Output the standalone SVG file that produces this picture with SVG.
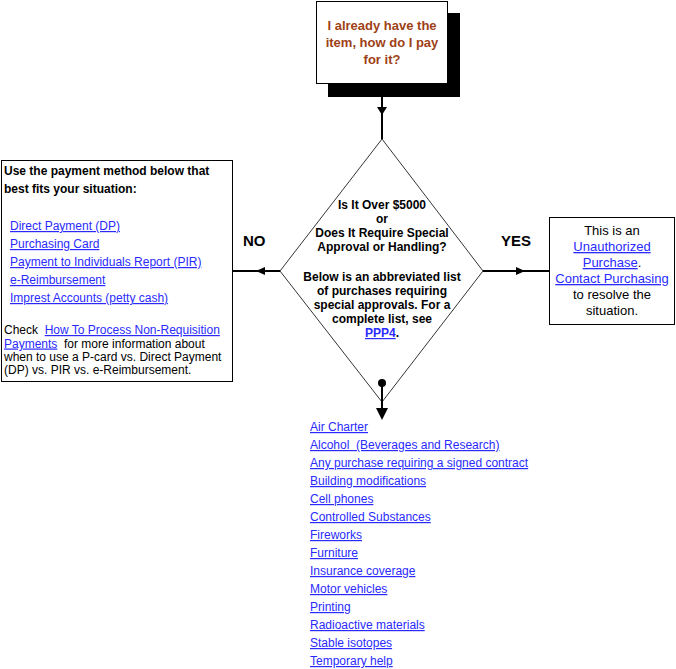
<svg xmlns="http://www.w3.org/2000/svg" width="676" height="669" viewBox="0 0 676 669">
<style>
text{font-family:"Liberation Sans",Arial,sans-serif;fill:#000}
.b{font-weight:bold}
.f12{font-size:12px}
.f13{font-size:13px}
.lk{fill:#2a2aff;text-decoration:underline}
.box{fill:#fff;stroke:#000;stroke-width:1}
.ln{stroke:#000;stroke-width:2;fill:none}
.ah{fill:#000;stroke:none}
.c{text-anchor:middle}
</style>
<rect width="676" height="669" fill="#fff"/>
<g id="start">
<rect x="328" y="13" width="132" height="84" fill="#000"/>
<rect class="box" x="316.5" y="1.5" width="131" height="82" stroke="#555"/>
<text class="b f13 c" x="382" y="30" style="fill:#9e3f16">I already have the</text>
<text class="b f13 c" x="382" y="47" style="fill:#9e3f16">item, how do I pay</text>
<text class="b f13 c" x="382" y="64" style="fill:#9e3f16">for it?</text>
</g>
<g id="decision">
<polygon points="382,139 483,271 382,402 280,271" fill="#fff" stroke="#000" stroke-width="0.8"/>
<text class="b f12 c" x="382" y="209">Is It Over $5000</text>
<text class="b f12 c" x="382" y="223">or</text>
<text class="b f12 c" x="382" y="237">Does It Require Special</text>
<text class="b f12 c" x="382" y="251">Approval or Handling?</text>
<text class="b f12 c" x="382" y="281">Below is an abbreviated list</text>
<text class="b f12 c" x="382" y="295">of purchases requiring</text>
<text class="b f12 c" x="382" y="309">special approvals. For a</text>
<text class="b f12 c" x="382" y="323">complete list, see</text>
<text class="b f12 c" x="382" y="337"><tspan class="lk">PPP4</tspan>.</text>
</g>
<g id="no-box">
<rect class="box" x="1.5" y="160.5" width="231" height="221"/>
<text class="b f12" x="4" y="175">Use the payment method below that</text>
<text class="b f12" x="4" y="193">best fits your situation:</text>
<text class="f12 lk" x="10" y="230">Direct Payment (DP)</text>
<text class="f12 lk" x="10" y="248">Purchasing Card</text>
<text class="f12 lk" x="10" y="266">Payment to Individuals Report (PIR)</text>
<text class="f12 lk" x="10" y="284">e-Reimbursement</text>
<text class="f12 lk" x="10" y="302">Imprest Accounts (petty cash)</text>
<text class="f12" x="4" y="334" xml:space="preserve">Check  <tspan class="lk">How To Process Non-Requisition</tspan></text>
<text class="f12" x="4" y="347.5" xml:space="preserve"><tspan class="lk">Payments</tspan>  for more information about</text>
<text class="f12" x="4" y="361">when to use a P-card vs. Direct Payment</text>
<text class="f12" x="4" y="374">(DP) vs. PIR vs. e-Reimbursement.</text>
</g>
<g id="yes-box">
<rect class="box" x="549.5" y="217.5" width="125" height="107"/>
<text class="f13 c" x="612" y="235">This is an</text>
<text class="f13 c lk" x="612" y="251">Unauthorized</text>
<text class="f13 c" x="612" y="267"><tspan class="lk">Purchase</tspan>.</text>
<text class="f13 c lk" x="612" y="283">Contact Purchasing</text>
<text class="f13 c" x="612" y="299">to resolve the</text>
<text class="f13 c" x="612" y="315">situation.</text>
</g>
<g id="list">
<text class="f12 lk" x="310" y="431">Air Charter</text>
<text class="f12 lk" x="310" y="449" xml:space="preserve">Alcohol  (Beverages and Research)</text>
<text class="f12 lk" x="310" y="467">Any purchase requiring a signed contract</text>
<text class="f12 lk" x="310" y="485">Building modifications</text>
<text class="f12 lk" x="310" y="503">Cell phones</text>
<text class="f12 lk" x="310" y="521">Controlled Substances</text>
<text class="f12 lk" x="310" y="539">Fireworks</text>
<text class="f12 lk" x="310" y="557">Furniture</text>
<text class="f12 lk" x="310" y="575">Insurance coverage</text>
<text class="f12 lk" x="310" y="593">Motor vehicles</text>
<text class="f12 lk" x="310" y="611">Printing</text>
<text class="f12 lk" x="310" y="629">Radioactive materials</text>
<text class="f12 lk" x="310" y="647">Stable isotopes</text>
<text class="f12 lk" x="310" y="665">Temporary help</text>
</g>
<g id="connectors">
<line class="ln" x1="382" y1="97" x2="382" y2="139"/>
<polygon class="ah" points="377,107 387,107 382,115"/>
<line class="ln" x1="280" y1="271" x2="233" y2="271"/>
<polygon class="ah" points="256,271 265,267 265,275"/>
<line class="ln" x1="483" y1="271" x2="549" y2="271"/>
<polygon class="ah" points="525,271 516,267 516,275"/>
<circle class="ah" cx="382" cy="383" r="4"/>
<line class="ln" x1="382" y1="383" x2="382" y2="410"/>
<polygon class="ah" points="376,408 388,408 382,420"/>
<text class="b" x="243" y="246" style="font-size:15px">NO</text>
<text class="b" x="501" y="246" style="font-size:15px">YES</text>
</g>
</svg>
